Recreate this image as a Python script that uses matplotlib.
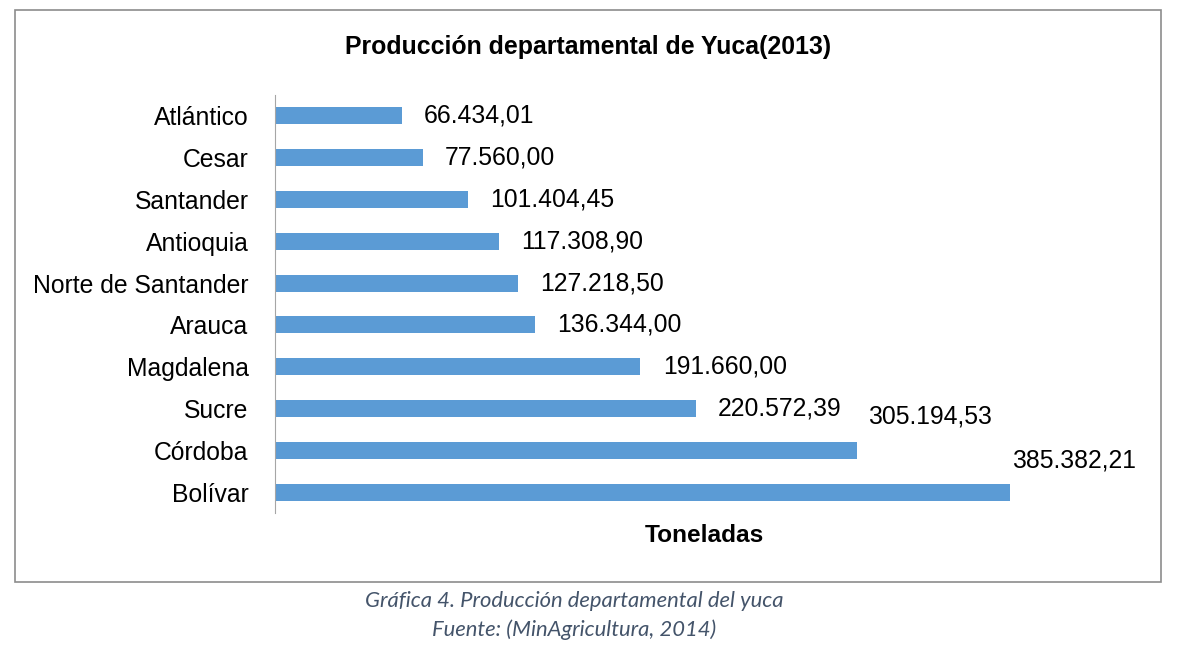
import matplotlib
matplotlib.use("Agg")
import matplotlib.pyplot as plt
from matplotlib.patches import Rectangle

# datos (toneladas, 2013)
departamentos = ["Atlántico", "Cesar", "Santander", "Antioquia", "Norte de Santander",
                 "Arauca", "Magdalena", "Sucre", "Córdoba", "Bolívar"]
toneladas = [66434.01, 77560.00, 101404.45, 117308.90, 127218.50,
             136344.00, 191660.00, 220572.39, 305194.53, 385382.21]

titulo = "Producción departamental de Yuca(2013)"
eje_x = "Toneladas"
pie1 = "Gráfica 4. Producción departamental del yuca"
pie2 = "Fuente: (MinAgricultura, 2014)"

fuente = ["Liberation Sans", "DejaVu Sans"]
fuente_pie = ["Lato", "DejaVu Sans"]
azul = "#5B9BD5"


def fmt(v):
    s = f"{v:,.2f}"
    return s.replace(",", "X").replace(".", ",").replace("X", ".")


fig = plt.figure(figsize=(11.78, 6.5), dpi=100)
ax = fig.add_axes([275 / 1178, 1 - 513 / 650, (1133 - 275) / 1178, (513 - 95) / 650])

# Bolívar abajo, Atlántico arriba
ypos = list(range(len(departamentos)))[::-1]
ax.barh(ypos, toneladas, height=0.41, color=azul)
ax.set_ylim(-0.5, len(departamentos) - 0.5)
ax.set_xlim(0, 450000)

ax.set_yticks(ypos)
ax.set_yticklabels(departamentos, family=fuente, fontsize=17.8)
ax.tick_params(axis="y", length=0, pad=19)
ax.set_xticks([])

for s in ["top", "right", "bottom"]:
    ax.spines[s].set_visible(False)
ax.spines["left"].set_color("#A6A6A6")
ax.spines["left"].set_linewidth(0.8)

# etiquetas de valores (las dos últimas movidas hacia arriba como en el original)
offsets = {8: (8, 24), 9: (1.5, 23)}
for i, (y, v) in enumerate(zip(ypos, toneladas)):
    dx, dy = offsets.get(i, (16, 0))
    ax.annotate(fmt(v), (v, y), xytext=(dx, dy), textcoords="offset points",
                ha="left", va="center", family=fuente, fontsize=17.8)

ax.set_xlabel(eje_x, family=fuente, fontsize=17.6, fontweight="bold", labelpad=8)

fig.text(588 / 1178, 1 - 47 / 650, titulo, ha="center", va="center",
         family=fuente, fontsize=17.9, fontweight="bold")

# marco del gráfico
fig.patches.append(Rectangle((15 / 1178, 1 - 582 / 650), (1161 - 15) / 1178, (582 - 10) / 650,
                             transform=fig.transFigure, fill=False,
                             edgecolor="#8C8C8C", linewidth=1.2))

fig.text(574 / 1178, 1 - 601 / 650, pie1, ha="center", va="center",
         family=fuente_pie, style="italic", fontsize=15.8, color="#44546A")
fig.text(574 / 1178, 1 - 630 / 650, pie2, ha="center", va="center",
         family=fuente_pie, style="italic", fontsize=15.8, color="#44546A")

fig.savefig("out.png", dpi=100)
